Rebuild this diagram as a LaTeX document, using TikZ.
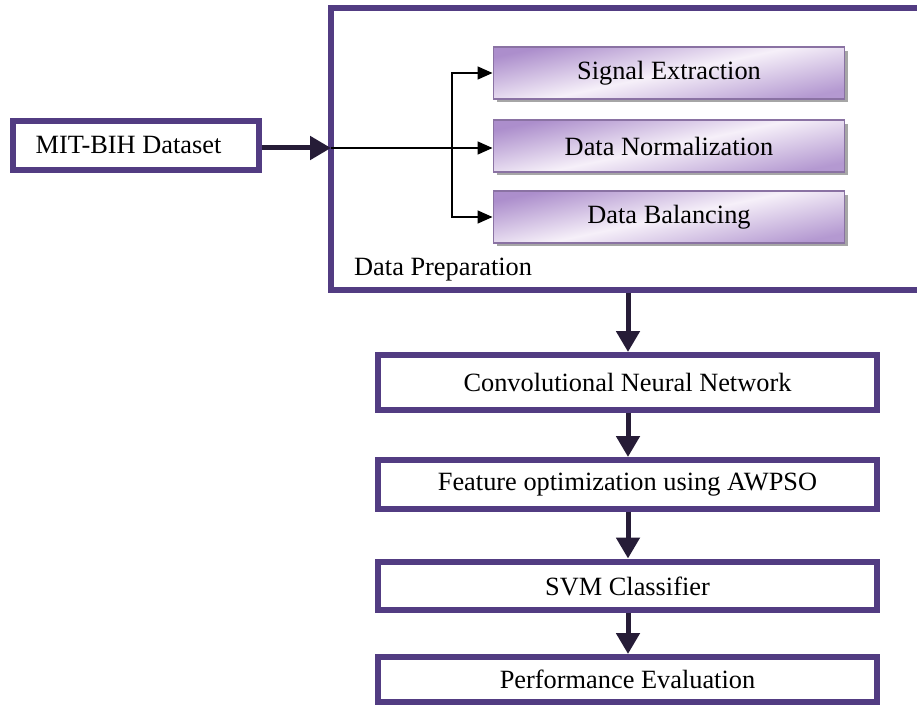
\documentclass[tikz,border=0pt]{standalone}
\usepackage{fontspec}
\setmainfont{Liberation Serif}
\usepackage{xcolor}
\usetikzlibrary{
	arrows.meta,
	shadows,
	calc
}
\definecolor{BoxPurple}{RGB}{82,60,130}
\definecolor{ArrowDark}{RGB}{38,28,55}
\definecolor{GradDark}{RGB}{172,142,204}
\definecolor{GradLight}{RGB}{246,240,249}

\begin{document}
\begin{tikzpicture}[x=0.02cm, y=-0.02cm, font=\fontsize{15}{18}\selectfont,
		stagebox/.style={draw=BoxPurple, line width=0.12cm, fill=white, inner sep=0pt,
			minimum width=9.98cm, minimum height=0.98cm},
		prepbox/.style={draw=GradDark!80!black, line width=0.6pt, inner sep=0pt,
			top color=GradDark, bottom color=GradDark!90, middle color=GradLight, shading angle=12,
			drop shadow={shadow xshift=0.07cm, shadow yshift=-0.07cm, fill=gray!70, opacity=1},
			minimum width=7.04cm, minimum height=1.04cm},
		bigarrow/.style={ArrowDark, line width=0.1cm, -{Triangle[length=0.42cm, width=0.46cm]}},
		thinarrow/.style={black, line width=0.9pt, -{Triangle[length=0.3cm, width=0.26cm]}}]
	\useasboundingbox (0,0) rectangle (917,706);
	% input and data preparation
	\node[stagebox, minimum width=4.92cm, minimum height=0.98cm] (mit) at (136,145.5) {\hspace*{-0.3cm}MIT-BIH Dataset};
	\draw[BoxPurple, line width=0.12cm] (940,8) -- (331,8) -- (331,290) -- (940,290);
	\coordinate (prepin) at (331,148);
	\coordinate (prepout) at (628,293);
	\node[anchor=west] (preplabel) at (348,270) {Data Preparation};
	\node[prepbox] (sig) at (669,73) {Signal Extraction};
	\node[prepbox] (norm) at (669,146) {Data Normalization};
	\node[prepbox] (bal) at (669,217) {Data Balancing};
	\coordinate (split) at (452,148);
	\draw[bigarrow] (mit.east |- prepin) -- (prepin);
	\draw[thinarrow] (prepin) -- (norm.west |- prepin);
	\draw[thinarrow] (split) |- (sig.west);
	\draw[thinarrow] (split) |- (bal.west);
	% pipeline
	\node[stagebox, minimum height=1.1cm] (cnn) at (627.5,382.5) {Convolutional Neural Network};
	\node[stagebox] (feat) at (627.5,484.5) {Feature optimization using AWPSO};
	\node[stagebox] (svm) at (627.5,586) {SVM Classifier};
	\node[stagebox, minimum height=0.9cm] (perf) at (627.5,679.5) {Performance Evaluation};
	\draw[bigarrow] (prepout) -- (cnn.north -| prepout);
	\draw[bigarrow] (cnn.south -| prepout) -- (feat.north -| prepout);
	\draw[bigarrow] (feat.south -| prepout) -- (svm.north -| prepout);
	\draw[bigarrow] (svm.south -| prepout) -- (perf.north -| prepout);
\end{tikzpicture}
\end{document}
